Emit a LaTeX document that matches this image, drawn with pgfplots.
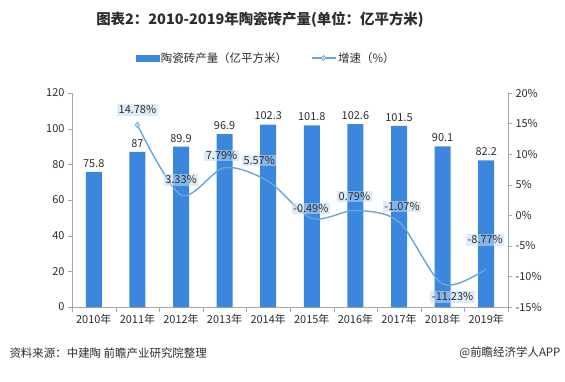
\documentclass[border=0pt]{standalone}
\usepackage{pgfplots}
\pgfplotsset{compat=1.18}
\usepackage{fontspec}
\setmainfont{Noto Sans CJK SC}
\definecolor{barblue}{RGB}{60,135,222}
\definecolor{linecol}{RGB}{105,165,215}
\definecolor{axisgray}{RGB}{166,166,166}
\definecolor{labbg}{RGB}{195,220,244}
\definecolor{txt}{RGB}{45,45,45}
\begin{document}
\begin{tikzpicture}[x=1bp,y=1bp]
\path[use as bounding box] (0,0) rectangle (565,381);
\begin{axis}[
  at={(72bp,74bp)}, anchor=south west, scale only axis,
  width=436bp, height=214bp,
  xmin=-0.5, xmax=9.5, ymin=0, ymax=120,
  ytick={0,20,...,120},
  xtick={0,...,9},
  xticklabels={2010年,2011年,2012年,2013年,2014年,2015年,2016年,2017年,2018年,2019年},
  major x tick style={draw=none},
  minor xtick={-0.5,0.5,...,9.5},
  axis x line*=bottom, axis y line*=left,
  axis line style={draw=axisgray},
  tick style={draw=axisgray},
  tick align=outside, major tick length=4bp, minor tick length=5bp,
  ticklabel style={font=\fontsize{11}{13}\selectfont, text=txt},
  /pgf/number format/assume math mode=true,
  ybar, bar width=16bp,
  nodes near coords,
  every node near coord/.append style={font=\fontsize{11}{13}\selectfont, text=txt, yshift=1bp},
  clip=false,
]
\addplot[fill=barblue, draw=none] coordinates {
  (0,75.8) (1,87) (2,89.9) (3,96.9) (4,102.3) (5,101.8) (6,102.6) (7,101.5) (8,90.1) (9,82.2)};
\end{axis}
\begin{axis}[
  at={(72bp,74bp)}, anchor=south west, scale only axis,
  width=436bp, height=214bp,
  xmin=-0.5, xmax=9.5, ymin=-15, ymax=20,
  ytick={-15,-10,...,20},
  yticklabel={\pgfmathprintnumber{\tick}\%},
  axis y line*=right, axis x line=none,
  axis line style={draw=axisgray},
  tick style={draw=axisgray},
  tick align=outside, major tick length=4bp,
  ticklabel style={font=\fontsize{11}{13}\selectfont, text=txt},
  /pgf/number format/assume math mode=true,
  clip=false,
  legend style={at={(axis description cs:0.445,1.164)}, anchor=center, draw=none, fill=none,
    legend columns=2, font=\fontsize{11.5}{13}\selectfont, text=txt,
    /tikz/every even column/.append style={column sep=22bp}},
]
\addlegendimage{legend image code/.code={\fill[barblue] (0bp,-3bp) rectangle (23bp,3bp);}}
\addlegendentry{陶瓷砖产量（亿平方米）}
\addplot[linecol, line width=1.4bp, smooth, no marks,
  legend image code/.code={\draw[linecol, line width=1.2bp] (0bp,0bp) -- (24bp,0bp);
    \draw[linecol, fill=labbg, line width=0.6bp] (12bp,-2.5bp) -- (14.5bp,0bp) -- (12bp,2.5bp) -- (9.5bp,0bp) -- cycle;},
  point meta=y,
  nodes near coords={\pgfmathprintnumber[fixed,fixed zerofill,precision=2]{\pgfplotspointmeta}\%},
  visualization depends on={\thisrow{dx} \as \dx},
  visualization depends on={\thisrow{dy} \as \dy},
  every node near coord/.style={anchor=center, xshift=\dx bp, yshift=\dy bp,
    fill=labbg, fill opacity=0.55, text opacity=1, text=txt, inner sep=1.5bp,
    font=\fontsize{11}{13}\selectfont},
] table {
x y dx dy
1 14.78 0 15
2 3.33 0 15
3 7.79 -3 12
4 5.57 -9 21
5 -0.49 -1 10
6 0.79 -1 14
7 -1.07 3 15
8 -11.23 10 -13
9 -8.77 -1 29
};
\addlegendentry{增速（\%）}
\addplot[only marks, mark=diamond*, mark size=3bp,
  mark options={fill=labbg, draw=linecol, line width=0.6bp}, forget plot]
  coordinates {(1,14.78)};
\end{axis}
\node[font=\fontsize{14.5}{16}\selectfont\bfseries, text=txt] at (260,361) {图表2：2010-2019年陶瓷砖产量(单位：亿平方米)};
\node[font=\fontsize{11.5}{13}\selectfont, text=txt, anchor=west] at (6,28) {资料来源：中建陶 前瞻产业研究院整理};
\node[font=\fontsize{11.5}{13}\selectfont, text=txt, anchor=east] at (564,28) {@前瞻经济学人APP};
\end{tikzpicture}
\end{document}
